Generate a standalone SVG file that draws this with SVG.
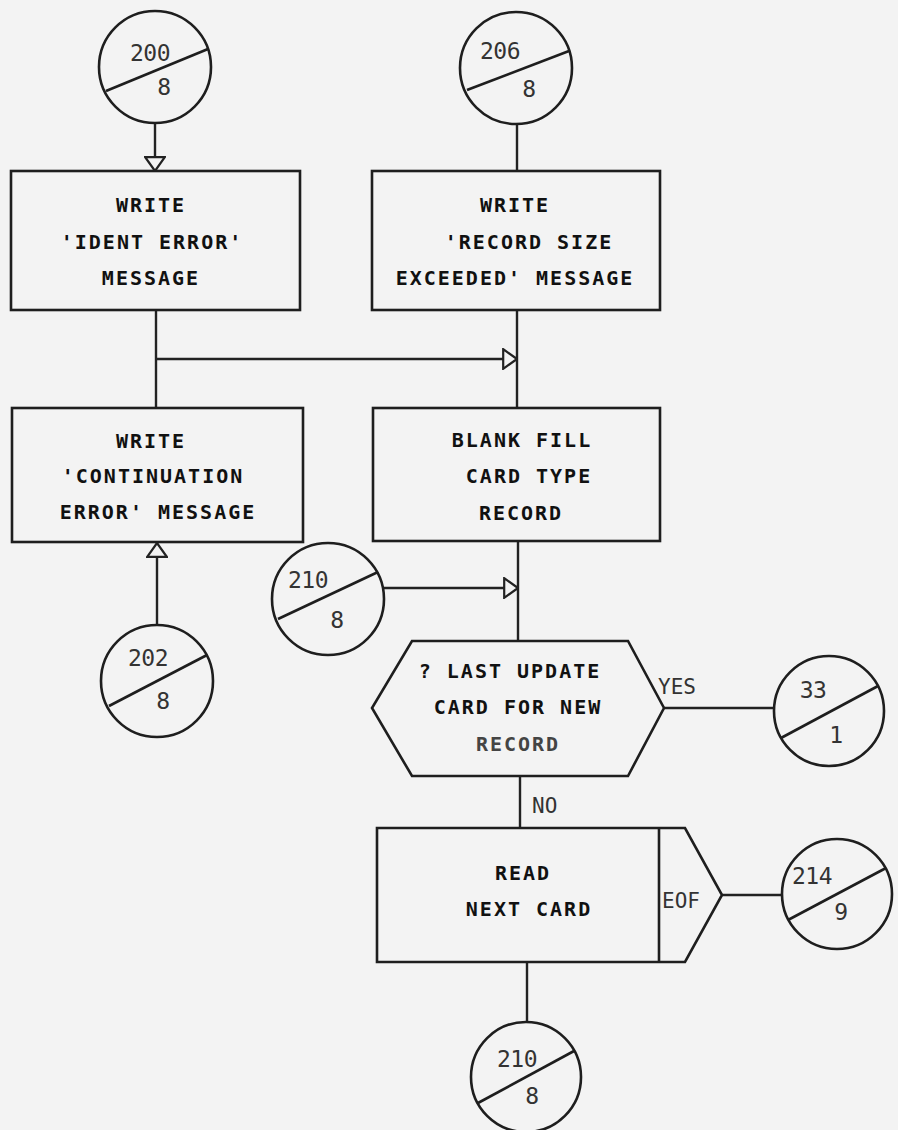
<svg xmlns="http://www.w3.org/2000/svg" width="898" height="1130" viewBox="0 0 898 1130">
<style>
.shape{fill:none;stroke:#1e1e1e;stroke-width:2.6}
.conn{fill:none;stroke:#222;stroke-width:2.4}
.t{font-family:"DejaVu Sans Mono","Liberation Mono",monospace;font-size:20px;font-weight:bold;letter-spacing:2px;fill:#111;text-anchor:middle}
.n{font-family:"DejaVu Sans Mono","Liberation Mono",monospace;font-size:23px;letter-spacing:-0.5px;fill:#333;text-anchor:middle}
.l{font-family:"DejaVu Sans Mono","Liberation Mono",monospace;font-size:21px;fill:#333}
</style>
<defs>
<marker id="tri" viewBox="0 0 16 22" refX="15" refY="11" markerWidth="16" markerHeight="22" markerUnits="userSpaceOnUse" orient="auto">
<path d="M1.2,1.2 L15,11 L1.2,20.8 Z" fill="#f3f3f3" stroke="#222" stroke-width="2.2"/>
</marker>
</defs>
<rect x="0" y="0" width="898" height="1130" fill="#f3f3f3"/>

<g id="connectors">
<line class="conn" x1="155" y1="123" x2="155" y2="171" marker-end="url(#tri)"/>
<line class="conn" x1="517" y1="124" x2="517" y2="171"/>
<line class="conn" x1="517" y1="310" x2="517" y2="408"/>
<line class="conn" x1="156" y1="310" x2="156" y2="408"/>
<line class="conn" x1="156" y1="359" x2="517" y2="359" marker-end="url(#tri)"/>
<line class="conn" x1="157" y1="625" x2="157" y2="543" marker-end="url(#tri)"/>
<line class="conn" x1="518" y1="541" x2="518" y2="641"/>
<line class="conn" x1="384" y1="588" x2="518" y2="588" marker-end="url(#tri)"/>
<line class="conn" x1="664" y1="708" x2="774" y2="708"/>
<line class="conn" x1="520" y1="776" x2="520" y2="828"/>
<line class="conn" x1="722" y1="895" x2="782" y2="895"/>
<line class="conn" x1="527" y1="962" x2="527" y2="1022"/>
</g>

<g id="c200">
<circle class="shape" cx="155" cy="67" r="56"/>
<line class="shape" x1="106" y1="91" x2="208" y2="49"/>
<text class="n" x="150" y="61">200</text>
<text class="n" x="164" y="95">8</text>
</g>

<g id="c206">
<circle class="shape" cx="516" cy="68" r="56"/>
<line class="shape" x1="467" y1="90" x2="569" y2="51"/>
<text class="n" x="500" y="59">206</text>
<text class="n" x="529" y="97">8</text>
</g>

<g id="box1">
<rect class="shape" x="11" y="171" width="289" height="139"/>
<text class="t" x="151" y="212">WRITE</text>
<text class="t" x="152" y="249">'IDENT ERROR'</text>
<text class="t" x="151" y="285">MESSAGE</text>
</g>

<g id="box2">
<rect class="shape" x="372" y="171" width="288" height="139"/>
<text class="t" x="515" y="212">WRITE</text>
<text class="t" x="529" y="249">'RECORD SIZE</text>
<text class="t" x="515" y="285">EXCEEDED' MESSAGE</text>
</g>

<g id="box4">
<rect class="shape" x="12" y="408" width="291" height="134"/>
<text class="t" x="151" y="448">WRITE</text>
<text class="t" x="153" y="483">'CONTINUATION</text>
<text class="t" x="158" y="519">ERROR' MESSAGE</text>
</g>

<g id="box3">
<rect class="shape" x="373" y="408" width="287" height="133"/>
<text class="t" x="522" y="447">BLANK FILL</text>
<text class="t" x="529" y="483">CARD TYPE</text>
<text class="t" x="521" y="520">RECORD</text>
</g>

<g id="c202">
<circle class="shape" cx="157" cy="681" r="56"/>
<line class="shape" x1="109" y1="706" x2="207" y2="655"/>
<text class="n" x="148" y="666">202</text>
<text class="n" x="163" y="709">8</text>
</g>

<g id="c210a">
<circle class="shape" cx="328" cy="599" r="56"/>
<line class="shape" x1="278" y1="619" x2="378" y2="572"/>
<text class="n" x="308" y="588">210</text>
<text class="n" x="337" y="628">8</text>
</g>

<g id="decision">
<polygon class="shape" points="412,641 628,641 664,708 628,776 412,776 372,708"/>
<text class="t" x="510" y="678">? LAST UPDATE</text>
<text class="t" x="518" y="714">CARD FOR NEW</text>
<text class="t" x="518" y="751" style="fill:#444">RECORD</text>
<text class="l" x="658" y="694">YES</text>
<text class="l" x="532" y="813">NO</text>
</g>

<g id="c33">
<circle class="shape" cx="829" cy="711" r="55"/>
<line class="shape" x1="781" y1="738" x2="878" y2="686"/>
<text class="n" x="813" y="698">33</text>
<text class="n" x="836" y="743">1</text>
</g>

<g id="read">
<path class="shape" d="M377,828 L685,828 L722,895 L685,962 L377,962 Z"/>
<line class="shape" x1="659" y1="828" x2="659" y2="962"/>
<text class="t" x="523" y="880">READ</text>
<text class="t" x="529" y="916">NEXT CARD</text>
<text class="l" x="662" y="908">EOF</text>
</g>

<g id="c214">
<circle class="shape" cx="837" cy="894" r="55"/>
<line class="shape" x1="788" y1="920" x2="886" y2="868"/>
<text class="n" x="812" y="884">214</text>
<text class="n" x="841" y="920">9</text>
</g>

<g id="c210b">
<circle class="shape" cx="526" cy="1077" r="55"/>
<line class="shape" x1="478" y1="1103" x2="574" y2="1051"/>
<text class="n" x="517" y="1067">210</text>
<text class="n" x="532" y="1104">8</text>
</g>
</svg>
